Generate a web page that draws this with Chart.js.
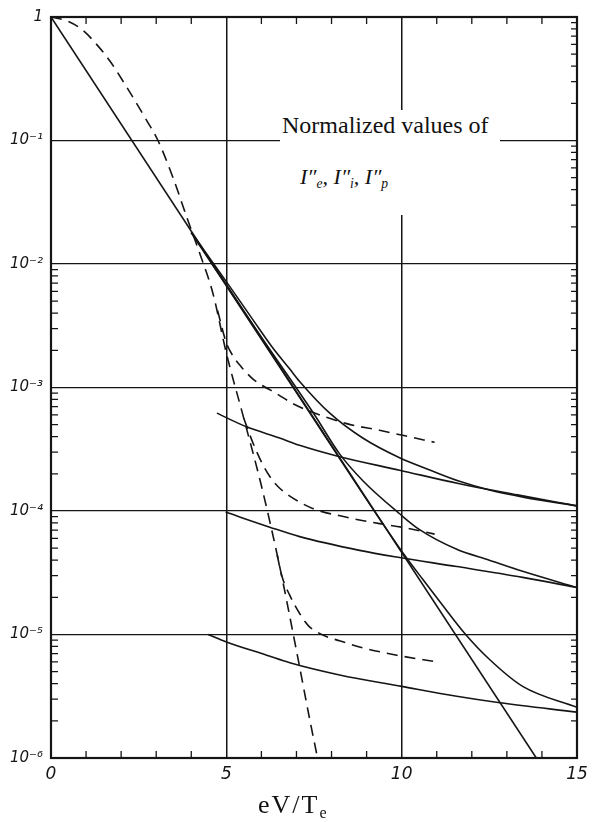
<!DOCTYPE html>
<html><head><meta charset="utf-8">
<script src="https://cdn.jsdelivr.net/npm/chart.js@4"></script>
<style>
html,body{margin:0;padding:0;background:#fff;}
#wrap{position:relative;width:597px;height:822px;overflow:hidden;}
#c{position:absolute;left:0;top:0;}
.serif{font-family:"Liberation Serif","Times New Roman",serif;color:#111;position:absolute;white-space:nowrap;line-height:1;}
#note{position:absolute;left:280px;top:110px;width:220px;height:105px;background:#fff;}
sub{font-size:0.62em;vertical-align:-0.3em;}
</style></head><body>
<div id="wrap">
<canvas id="c" width="597" height="822"></canvas>
<div id="note">
  <div class="serif" style="left:2px;top:3px;font-size:24px;">Normalized values of</div>
  <div class="serif" style="left:20px;top:56px;font-size:22px;font-style:italic;">I″<sub>e</sub>, I″<sub>i</sub>, I″<sub>p</sub></div>
</div>
<div class="serif" style="left:258px;top:792px;font-size:26px;letter-spacing:2px;">eV/T<sub>e</sub></div>
</div>
<script>
// ---- tick labels ----
const xTickValues = [0, 5, 10, 15];
const xTickLabels = ['0', '5', '10', '15'];
const yTickValues = [1, 1e-1, 1e-2, 1e-3, 1e-4, 1e-5, 1e-6];
const yTickLabels = ['1', '10⁻¹', '10⁻²', '10⁻³', '10⁻⁴', '10⁻⁵', '10⁻⁶'];

// ---- solid: electron term (straight on log axis) ----
const ieX = [0, 13.84];
const ieY = [1, 1e-6];

// ---- solid: ion terms ----
const ionAX = [4.73, 5.58, 6.52, 7.09, 8.23, 9.94, 11.65, 13.3, 15];
const ionAY = [6.2e-4, 4.8e-4, 3.9e-4, 3.4e-4, 2.75e-4, 2.14e-4, 1.66e-4, 1.35e-4, 1.1e-4];
const ionBX = [4.98, 6.24, 7.09, 8.8, 9.94, 11.57, 13.45, 15];
const ionBY = [9.8e-5, 7.4e-5, 6.2e-5, 4.8e-5, 4.2e-5, 3.55e-5, 2.9e-5, 2.4e-5];
const ionCX = [4.48, 5.0, 6.15, 6.81, 8.23, 10, 11.57, 12.8, 15];
const ionCY = [1e-5, 8.7e-6, 6.8e-6, 5.9e-6, 4.7e-6, 3.8e-6, 3.16e-6, 2.8e-6, 2.35e-6];

// ---- solid: total (probe) terms ----
const pAX = [4.0, 5.0, 5.8, 6.3, 6.81, 7.09, 7.95, 8.89, 9.94, 10.8, 11.65, 12.5, 13.5, 15];
const pAY = [1.8e-2, 7.2e-3, 3.4e-3, 2.14e-3, 1.41e-3, 1.12e-3, 6.2e-4, 3.9e-4, 2.7e-4, 2.15e-4, 1.74e-4, 1.48e-4, 1.29e-4, 1.1e-4];
const pBX = [4.0, 6.0, 7.5, 8.23, 8.9, 9.94, 10.5, 11.57, 12.5, 13.45, 15];
const pBY = [1.8e-2, 2.55e-3, 6.1e-4, 2.9e-4, 1.75e-4, 9.5e-5, 7.1e-5, 4.9e-5, 4.0e-5, 3.25e-5, 2.4e-5];
const pCX = [4.0, 7.0, 9.94, 10.6, 11.08, 11.8, 12.5, 13.45, 15];
const pCY = [1.8e-2, 9.1e-4, 5.0e-5, 2.8e-5, 1.86e-5, 1.02e-5, 6.3e-6, 3.8e-6, 2.57e-6];

// ---- dashed curves ----
const d0X = [0, 0.5, 0.91, 1.3, 1.68, 2.16, 2.73, 3.05, 3.48, 3.87, 4.25, 4.62, 5.0, 5.5, 6.0, 6.5, 7.0, 7.38, 7.58];
const d0Y = [1, 0.92, 0.78, 0.6, 0.44, 0.27, 0.145, 0.1, 0.05, 0.024, 0.012, 5.75e-3, 1.9e-3, 5.6e-4, 1.6e-4, 3.8e-5, 7.4e-6, 2.04e-6, 1.07e-6];
const dAX = [4.75, 5.0, 5.2, 5.4, 5.76, 6.44, 6.9, 7.46, 8.43, 9.37, 10.03, 10.94];
const dAY = [4.2e-3, 2.3e-3, 1.78e-3, 1.5e-3, 1.17e-3, 8.9e-4, 7.4e-4, 6.3e-4, 5.1e-4, 4.5e-4, 4.1e-4, 3.6e-4];
const dBX = [5.5, 5.76, 6.0, 6.24, 6.5, 6.81, 7.46, 8.43, 9.37, 10.0, 10.94];
const dBY = [5.6e-4, 3.55e-4, 2.5e-4, 1.9e-4, 1.55e-4, 1.32e-4, 1.05e-4, 8.9e-5, 7.9e-5, 7.4e-5, 6.5e-5];
const dCX = [6.45, 6.58, 6.8, 7.09, 7.35, 7.58, 7.9, 8.23, 8.89, 9.86, 11.0];
const dCY = [4.4e-5, 3.0e-5, 2.1e-5, 1.48e-5, 1.17e-5, 1.05e-5, 9.5e-6, 8.9e-6, 7.8e-6, 6.8e-6, 6.0e-6];

function pts(xs, ys) { return xs.map((x, i) => ({ x: x, y: ys[i] })); }
const INK = '#151515';
function solid(label, xs, ys, straight) {
  return { label, data: pts(xs, ys), borderColor: INK, borderWidth: 1.6, pointRadius: 0,
    fill: false, tension: straight ? 0 : 0.4, cubicInterpolationMode: straight ? 'default' : 'monotone' };
}
function dashed(label, xs, ys) {
  return { label, data: pts(xs, ys), borderColor: INK, borderWidth: 1.6, pointRadius: 0,
    fill: false, borderDash: [11, 7], tension: 0.4, cubicInterpolationMode: 'monotone' };
}

const framePlugin = {
  id: 'frame',
  afterDatasetsDraw(chart) {
    const { ctx, chartArea: a, scales } = chart;
    const y = scales.y, x = scales.x;
    ctx.save();
    ctx.strokeStyle = INK;
    ctx.lineWidth = 1.3;
    ctx.beginPath();
    for (let d = -6; d <= -1; d++) {
      for (let m = 2; m <= 9; m++) {
        const py = y.getPixelForValue(m * Math.pow(10, d));
        ctx.moveTo(a.right, py); ctx.lineTo(a.right - 6, py);
        if (d <= -3) { ctx.moveTo(a.left, py); ctx.lineTo(a.left + 7, py); }
      }
    }
    for (let i = 1; i < 15; i++) {
      if (i % 5 === 0) continue;
      const px = x.getPixelForValue(i);
      ctx.moveTo(px, a.top); ctx.lineTo(px, a.top + 7);
      ctx.moveTo(px, a.bottom); ctx.lineTo(px, a.bottom - 7);
    }
    ctx.stroke();
    ctx.lineWidth = 2.2;
    ctx.strokeRect(a.left, a.top, a.right - a.left, a.bottom - a.top);
    ctx.restore();
  }
};

new Chart(document.getElementById('c'), {
  type: 'line',
  data: {
    datasets: [
      solid('Ie', ieX, ieY, true),
      solid('Ii A', ionAX, ionAY), solid('Ii B', ionBX, ionBY), solid('Ii C', ionCX, ionCY),
      solid('Ip A', pAX, pAY), solid('Ip B', pBX, pBY), solid('Ip C', pCX, pCY),
      dashed('De', d0X, d0Y), dashed('Dp A', dAX, dAY), dashed('Dp B', dBX, dBY), dashed('Dp C', dCX, dCY)
    ]
  },
  options: {
    responsive: false, animation: false, devicePixelRatio: 1,
    layout: { padding: { left: 0, top: 16, right: 20, bottom: 0 } },
    plugins: { legend: { display: false }, tooltip: { enabled: false } },
    scales: {
      x: {
        type: 'linear', min: 0, max: 15,
        afterBuildTicks: s => { s.ticks = xTickValues.map(v => ({ value: v })); },
        afterFit: s => { s.height = 64; },
        ticks: { callback: (v) => xTickLabels[xTickValues.indexOf(v)], color: INK, padding: 6,
          font: { family: 'DejaVu Sans', style: 'italic', size: 17 }, maxRotation: 0 },
        grid: { color: c => (c.tick && (c.tick.value === 5 || c.tick.value === 10)) ? INK : 'rgba(0,0,0,0)',
          lineWidth: 1.5, drawTicks: false },
        border: { display: false }
      },
      y: {
        type: 'logarithmic', min: 1e-6, max: 1,
        afterBuildTicks: s => { s.ticks = yTickValues.map(v => ({ value: v })); },
        afterFit: s => { s.width = 51; },
        ticks: { callback: (v) => { const i = yTickValues.findIndex(t => Math.abs(t - v) / t < 1e-6); return i >= 0 ? yTickLabels[i] : ''; },
          color: INK, padding: 8, font: { family: 'DejaVu Sans', style: 'italic', size: 15 } },
        grid: { color: c => (c.tick && c.tick.value < 0.99 && c.tick.value > 1.01e-6) ? INK : 'rgba(0,0,0,0)',
          lineWidth: 1.3, drawTicks: false },
        border: { display: false }
      }
    }
  },
  plugins: [framePlugin]
});
</script>
</body></html>
